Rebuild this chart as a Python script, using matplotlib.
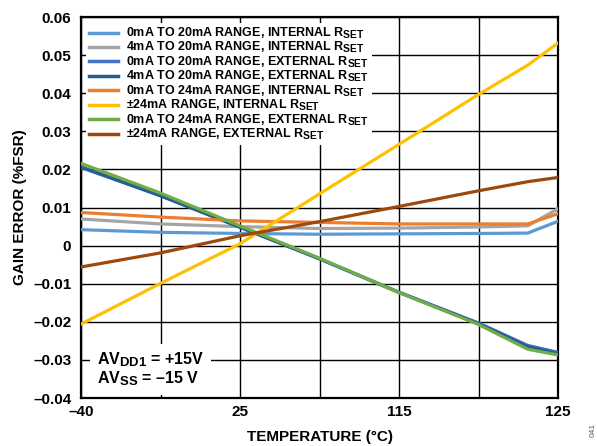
import matplotlib

matplotlib.use("Agg")
import matplotlib._mathtext as mt
import matplotlib.pyplot as plt

# subscripts in the reference are only a little smaller than the main text
mt.SHRINK_FACTOR = 0.82

plt.rcParams["font.family"] = ["Liberation Sans", "DejaVu Sans"]
plt.rcParams["font.weight"] = "bold"
plt.rcParams["mathtext.fontset"] = "custom"
plt.rcParams["mathtext.rm"] = "Liberation Sans:bold"
plt.rcParams["mathtext.bf"] = "Liberation Sans:bold"
plt.rcParams["mathtext.it"] = "Liberation Sans:bold"

# category positions along the x axis (gridlines at 0..6, last kink near 5.62)
pos = [0, 1, 2, 3, 4, 5, 5.62, 6]
xtick_labels = ["\u201340", "", "25", "", "115", "", "125"]

ma0_20_int = [0.0042, 0.0035, 0.0032, 0.0030, 0.0031, 0.0032, 0.0033, 0.0064]
ma4_20_int = [0.0070, 0.0057, 0.0050, 0.0045, 0.0046, 0.0049, 0.0052, 0.0097]
ma0_20_ext = [0.0205, 0.0131, 0.0049, -0.0034, -0.0122, -0.0203, -0.0262, -0.0280]
ma4_20_ext = [0.0207, 0.0131, 0.0048, -0.0035, -0.0123, -0.0205, -0.0265, -0.0284]
ma0_24_int = [0.0087, 0.0075, 0.0065, 0.0061, 0.0057, 0.0057, 0.0057, 0.0084]
pm24_int = [-0.0206, -0.0099, 0.0005, 0.0136, 0.0266, 0.0397, 0.0474, 0.0532]
ma0_24_ext = [0.0216, 0.0138, 0.0052, -0.0033, -0.0123, -0.0207, -0.0272, -0.0287]
pm24_ext = [-0.0056, -0.0019, 0.0026, 0.0063, 0.0103, 0.0144, 0.0168, 0.0179]

series = [
    (ma0_20_int, "#5B9BD5", "0mA TO 20mA RANGE, INTERNAL R$_{\\mathrm{SET}}$"),
    (ma4_20_int, "#A5A5A5", "4mA TO 20mA RANGE, INTERNAL R$_{\\mathrm{SET}}$"),
    (ma0_20_ext, "#4472C4", "0mA TO 20mA RANGE, EXTERNAL R$_{\\mathrm{SET}}$"),
    (ma4_20_ext, "#255E91", "4mA TO 20mA RANGE, EXTERNAL R$_{\\mathrm{SET}}$"),
    (ma0_24_int, "#ED7D31", "0mA TO 24mA RANGE, INTERNAL R$_{\\mathrm{SET}}$"),
    (pm24_int, "#FFC000", "\u00b124mA RANGE, INTERNAL R$_{\\mathrm{SET}}$"),
    (ma0_24_ext, "#70AD47", "0mA TO 24mA RANGE, EXTERNAL R$_{\\mathrm{SET}}$"),
    (pm24_ext, "#9E480E", "\u00b124mA RANGE, EXTERNAL R$_{\\mathrm{SET}}$"),
]
yticks = [-0.04, -0.03, -0.02, -0.01, 0, 0.01, 0.02, 0.03, 0.04, 0.05, 0.06]

fig = plt.figure(figsize=(5.97, 4.46), dpi=100)
ax = fig.add_axes([0.1357, 0.1076, 0.799, 0.854])

handles = []
for vals, col, lab in series:
    (ln,) = ax.plot(pos, vals, color=col, lw=2.3, label=lab, zorder=3)
    handles.append(ln)

ax.set_xlim(0, 6)
ax.set_ylim(-0.04, 0.06)
ax.set_xticks(range(7))
ax.set_xticklabels(xtick_labels, fontsize=11, fontweight="bold")
ax.set_yticks(yticks)
ax.set_yticklabels([("%.2f" % v).replace("-", "\u2013") if v != 0 else "0" for v in yticks],
                   fontsize=11, fontweight="bold")
ax.tick_params(axis="both", length=0)
ax.tick_params(axis="y", pad=7)
ax.tick_params(axis="x", pad=5)
ax.grid(True, color="black", lw=1.0, zorder=1)
ax.set_axisbelow(True)
for s in ax.spines.values():
    s.set_linewidth(1.6)

ax.set_xlabel("TEMPERATURE (\u00b0C)", fontsize=11, fontweight="bold", labelpad=8)
ax.set_ylabel("GAIN ERROR (%FSR)", fontsize=11, fontweight="bold", labelpad=4)

leg_kw = dict(loc="upper left", handlelength=2.35, handletextpad=0.62,
              labelspacing=-0.06, borderpad=0.25, borderaxespad=0, frameon=True,
              facecolor="white", edgecolor="none", framealpha=1,
              prop={"weight": "bold", "size": 9.0})
leg1 = ax.legend(handles=handles[:4], bbox_to_anchor=(0.01, 0.985), **leg_kw)
ax.add_artist(leg1)
leg2 = ax.legend(handles=handles[4:], bbox_to_anchor=(0.01, 0.833), **leg_kw)
for lg in (leg1, leg2):
    lg.set_zorder(5)
    for h in lg.get_lines():
        h.set_linewidth(2.5)

ax.text(0.034, 0.075, "AV$_{\\mathrm{DD1}}$ = +15V\nAV$_{\\mathrm{SS}}$ = \u201315 V",
        transform=ax.transAxes, fontsize=11.5, fontweight="bold", va="center", ha="left",
        linespacing=1.05, zorder=5,
        bbox=dict(facecolor="white", edgecolor="none", pad=5))

fig.text(0.993, 0.035, "041", rotation=90, fontsize=6, color="#555555",
         fontweight="normal", ha="center", va="center")

fig.savefig("out.png", dpi=100)
